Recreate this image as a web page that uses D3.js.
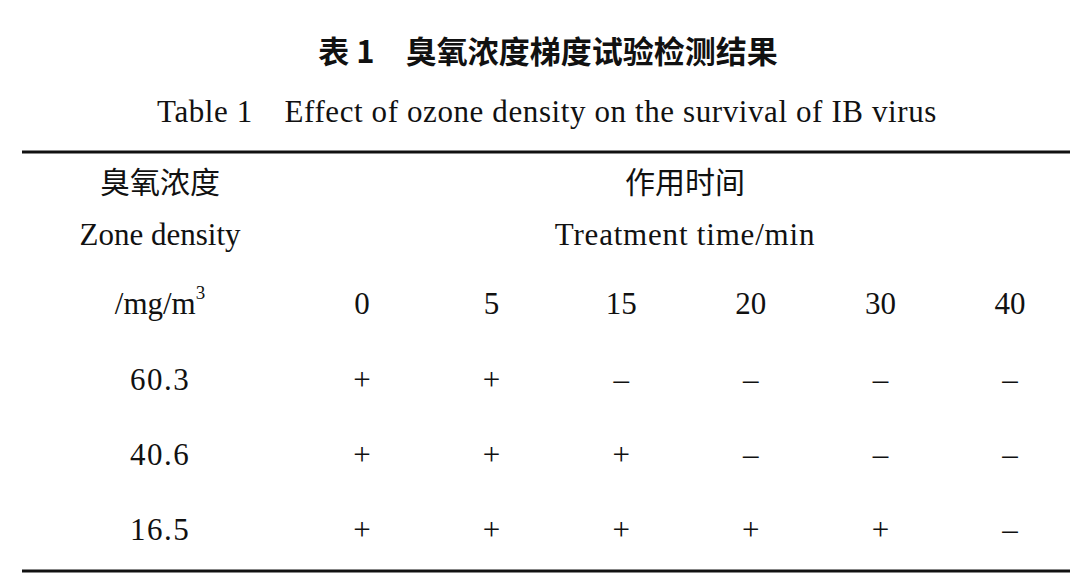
<!DOCTYPE html>
<html><head><meta charset="utf-8">
<script src="https://cdn.jsdelivr.net/npm/d3@7"></script>
<style>body{margin:0;background:#fff}</style></head>
<body><svg id="c" width="1080" height="582"></svg>
<script>
const times = ["0","5","15","20","30","40"];
const densities = ["60.3","40.6","16.5"];
const results = [
  ["+","+","–","–","–","–"],
  ["+","+","+","–","–","–"],
  ["+","+","+","+","+","–"]
];
const svg = d3.select("#c");
const serif = "'Liberation Serif','DejaVu Serif',serif";
const cjk = "'Noto Sans CJK SC',sans-serif";
const x = d3.scalePoint().domain(times).range([362,1010]);
const y = d3.scalePoint().domain(densities).range([383,533]);
const txt = (t,px,py,opt={}) => svg.append("text").attr("x",px).attr("y",py)
  .attr("text-anchor",opt.a||"middle").attr("dominant-baseline","middle")
  .style("font-family",opt.f||serif).style("font-size",(opt.s||31)+"px")
  .style("font-weight",opt.w||"normal").style("letter-spacing",opt.ls||"0px").attr("fill","#111").text(t);
txt("表 1　臭氧浓度梯度试验检测结果",548,55,{f:cjk,s:31,w:"bold"});
txt("Table 1　Effect of ozone density on the survival of IB virus",547,115,{s:31,ls:"0.6px"});
svg.append("line").attr("x1",22).attr("x2",1070).attr("y1",152).attr("y2",152).attr("stroke","#111").attr("stroke-width",3);
svg.append("line").attr("x1",22).attr("x2",1070).attr("y1",571).attr("y2",571).attr("stroke","#111").attr("stroke-width",3);
txt("臭氧浓度",160,185,{f:cjk,s:30});
txt("Zone density",160,238,{s:31});
const u = txt("/mg/m",160,307,{s:31});
u.append("tspan").attr("dy",-12).style("font-size","19px").text("3");
txt("作用时间",685,185,{f:cjk,s:30});
txt("Treatment time/min",685,238,{s:31,ls:"0.8px"});
times.forEach(t=>txt(t,x(t),307,{s:31}));
densities.forEach((d,i)=>{
  txt(d,160,y(d),{s:31,ls:"1.5px"});
  results[i].forEach((r,j)=>txt(r,x(times[j]),y(d),{s:31}));
});
</script></body></html>
